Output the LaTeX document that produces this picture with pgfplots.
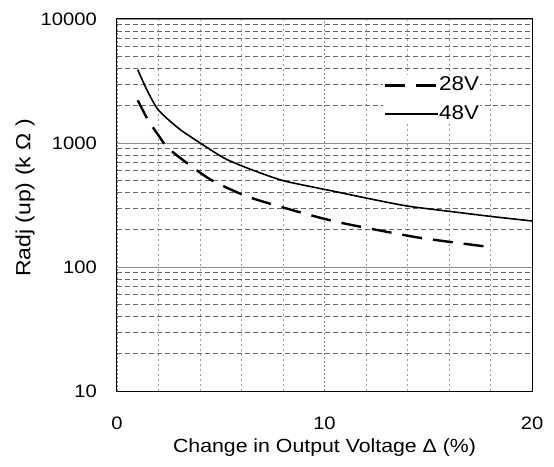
\documentclass[border=0pt]{standalone}
\usepackage{pgfplots}
\pgfplotsset{compat=1.18}
\usepackage{fontspec}
\setmainfont{Liberation Sans}[FakeStretch=1.12]
\begin{document}
\fontsize{18}{20}\selectfont
\begin{tikzpicture}
\begin{axis}[
  scale only axis,
  width=415pt, height=372pt,
  xmin=0, xmax=20,
  ymode=log, ymin=10, ymax=10000,
  xtick={0,10,20},
  minor xtick={2,4,6,8,12,14,16,18},
  ytick={10,100,1000,10000},
  yticklabels={10,100,1000,10000},
  minor ytick={20,30,40,50,60,70,80,90,200,300,400,500,600,700,800,900,2000,3000,4000,5000,6000,7000,8000,9000},
  major tick length=0pt, minor tick length=0pt,
  grid=both,
  major x grid style={black!45, dash pattern=on 2pt off 2pt, line width=0.5pt},
  minor x grid style={black!40, dash pattern=on 2pt off 3pt, line width=0.5pt},
  major y grid style={black!45, line width=0.8pt},
  minor y grid style={black!60, dash pattern=on 5pt off 3pt, line width=0.5pt},
  axis line style={black, line width=1pt},
  /pgf/number format/assume math mode=true,
  xticklabel style={yshift=-20pt},
  yticklabel style={xshift=-14pt},
  xlabel={Change in Output Voltage Δ (\%)},
  ylabel={Radj (up) (k Ω )},
  xlabel style={at={(axis description cs:0.5,0)}, anchor=center, yshift=-57pt, font=\fontsize{19}{21}\selectfont},
  ylabel style={at={(axis description cs:0,0.5)}, anchor=center, rotate=0, xshift=7pt, yshift=92pt, font=\fontsize{20.5}{22}\selectfont},
  legend style={at={(axis description cs:0.64,0.85)}, anchor=north west, draw=none, fill=white, inner sep=1pt, row sep=10pt, font=\fontsize{20}{22}\selectfont, nodes={inner xsep=0pt, inner ysep=1pt}},
  legend cell align=left,
  legend image code/.code={\draw[#1] (0pt,0pt) -- (53pt,0pt);},
]
\addplot[black, line width=2.4pt, dash pattern=on 20pt off 11pt, smooth, tension=0.4] coordinates {
(1,2210) (1.5,1524) (2,1153) (2.4,930) (3.3,703) (4.57,500) (6.34,367) (8.76,278) (10.45,234) (12.2,204) (14.5,173) (16.6,155) (18.1,144)
};
\addlegendentry{28V}
\addplot[black, line width=1.6pt, smooth, tension=0.4] coordinates {
(1,3900) (1.45,2660) (2,1840) (3,1300) (4.17,960) (5.2,750) (6.34,622) (7.95,500) (9.8,429) (10.45,408) (12,360) (14,310) (16.25,278) (18,256) (20,235)
};
\addlegendentry{48V}
\end{axis}
\pgfresetboundingbox
\path ([shift={(-117pt,-75pt)}]current axis.south west) rectangle ([shift={(437pt,391pt)}]current axis.south west);
\end{tikzpicture}
\end{document}
